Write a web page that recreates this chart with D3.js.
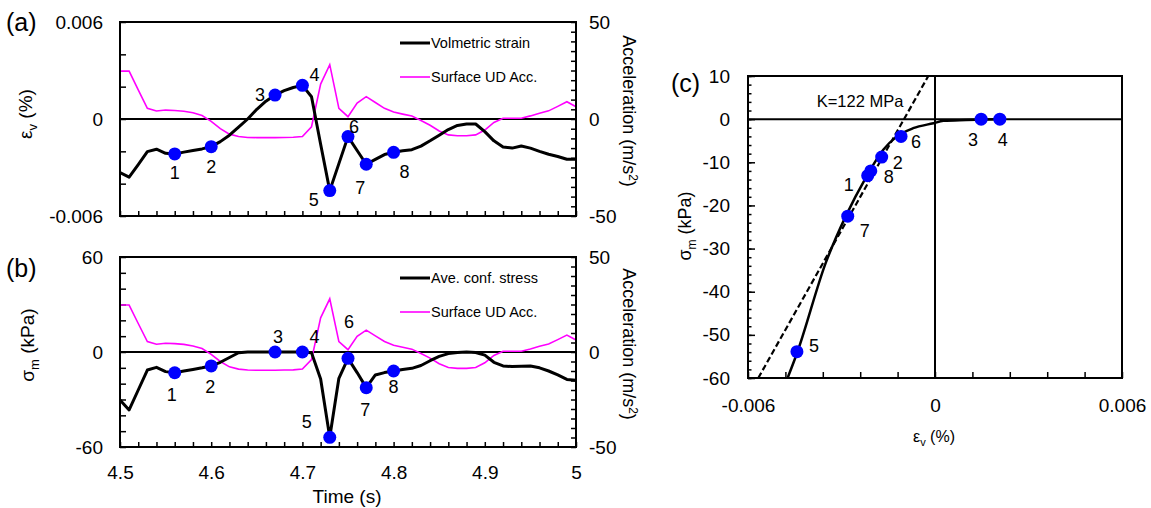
<!DOCTYPE html>
<html>
<head>
<meta charset="utf-8">
<script src="https://cdn.jsdelivr.net/npm/d3@7"></script>
<style>
  body { margin: 0; background: #fff; }
  svg { font-family: "Liberation Sans", Arial, sans-serif; }
</style>
</head>
<body>
<div id="chart"></div>
<script>
// time series (s)
var time = [4.50, 4.51, 4.52, 4.53, 4.54, 4.55, 4.56, 4.57, 4.58, 4.59,
            4.60, 4.61, 4.62, 4.63, 4.64, 4.65, 4.66, 4.67, 4.68, 4.69,
            4.70, 4.71, 4.72, 4.73, 4.74, 4.75, 4.76, 4.77, 4.78, 4.79,
            4.80, 4.81, 4.82, 4.83, 4.84, 4.85, 4.86, 4.87, 4.88, 4.89,
            4.90, 4.91, 4.92, 4.93, 4.94, 4.95, 4.96, 4.97, 4.98, 4.99, 5.00]

// volumetric strain (%)
var strain = [-0.00332, -0.0036, -0.00282, -0.00202, -0.00187, -0.00212, -0.00216, -0.00205, -0.00195, -0.00185,
              -0.00171, -0.0014, -0.001, -0.0005, 0.0, 0.0006, 0.0011, 0.00148, 0.00175, 0.00195,
              0.00208, 0.00138, -0.00156, -0.00443, -0.00276, -0.00109, -0.00195, -0.0028, -0.0025, -0.0022,
              -0.00206, -0.00197, -0.0019, -0.00168, -0.00135, -0.001, -0.00065, -0.0004, -0.00031, -0.00031,
              -0.00078, -0.00135, -0.00173, -0.0018, -0.00167, -0.0018, -0.002, -0.00218, -0.00232, -0.00249, -0.00249]

// average confining stress (kPa)
var stress = [-30.3, -36.6, -24, -11.4, -9.7, -12.4, -13.1, -12, -11, -10,
              -8.8, -6.5, -3.5, -0.5, 0, 0, 0, 0, 0, 0,
              0, -0.5, -17, -53.9, -16.6, -4, -13, -22.5, -14.5, -13,
              -12, -11, -10.3, -8.5, -5.5, -2.8, -1, -0.3, 0, -0.3,
              -2, -6.5, -8.8, -9.2, -9, -8.8, -10, -12, -14.5, -17.3, -17.9]

// surface UD acceleration (m/s2)
var accel = [24.7, 24.7, 15, 5.5, 4.1, 4.6, 4.4, 4.0, 3.2, 1.8,
             -1.2, -5, -7.8, -9.0, -9.5, -9.6, -9.6, -9.6, -9.5, -9.4,
             -9.0, -4, 18, 28, 5.5, 1.2, 8.2, 11.5, 8.5, 5.5,
             3.6, 2.5, 1.5, -0.8, -3.2, -6.2, -8.2, -8.6, -8.6, -8.2,
             -5.7, -1.8, 0.4, 0.4, 0.4, 1.6, 3.0, 4.2, 6.5, 8.9, 6.3]

// numbered states
var ptTime = [4.56, 4.60, 4.67, 4.70, 4.73, 4.75, 4.77, 4.80]
var ptName = ["1", "2", "3", "4", "5", "6", "7", "8"]

// fitted stress-strain curve in (c)
var fitStrain = [-0.00473, -0.00444, -0.0035, -0.00287, -0.0022, -0.00166, -0.00123, -0.0007, -0.00005, 0.00027, 0.001, 0.00203]
var fitStress = [-60, -54.5, -33.2, -22.6, -13.3, -7.1, -4.05, -2.1, -0.95, -0.4, -0.2, 0]

// K = 122 MPa line
var kStrain = [-0.00567, -0.000215]
var kStress = [-60, 10]

// label placement (pixel offsets from each point)
var offA = [[0, 19], [0, 20], [-15, 0], [12, -10], [-16, 9], [6, -10], [-6, 24], [11, 20]]
var offB = [[-3, 22], [-1, 21], [3, -15], [12, -15], [-23, -15], [1, -36], [-1, 22], [0, 16]]
var offC = [[-19, 9], [16, 6], [-8, 21], [3, 21], [17, -6], [15, 6], [17, 15], [18, 6]]

var svg = d3.select("#chart").append("svg")
    .attr("width", 1151)
    .attr("height", 508)

var ptIdx = ptTime.map(t => time.findIndex(v => Math.abs(v - t) < 1e-6))

function fmt(d) {
    if (Math.abs(d) < 1e-9) return "0"
    return String(+d.toPrecision(6))
}

function axisStyle(g) {
    g.select(".domain").remove()
    g.selectAll(".tick line").attr("stroke", "#000").attr("stroke-width", 1.5)
    g.selectAll(".tick text").attr("font-size", 19).attr("fill", "#000")
}

function labelFmt(shown) {
    return d => shown.some(s => Math.abs(s - d) < 1e-9) ? fmt(d) : ""
}

function timePanel(top, bottom, yDomain, yTicks, yShown, series, seriesName, offs, showX) {
    var x = d3.scaleLinear().domain([4.5, 5]).range([120, 576])
    var y = d3.scaleLinear().domain(yDomain).range([bottom, top])
    var ya = d3.scaleLinear().domain([-50, 50]).range([bottom, top])
    var g = svg.append("g")

    var xt = d3.range(0, 26).map(i => 4.5 + i * 0.02)
    g.append("g").attr("transform", "translate(0," + bottom + ")")
        .call(d3.axisBottom(x).tickValues(xt).tickSize(-5).tickPadding(19)
            .tickFormat(showX ? labelFmt([4.5, 4.6, 4.7, 4.8, 4.9, 5]) : () => ""))
        .call(axisStyle)
    g.append("g").attr("transform", "translate(120,0)")
        .call(d3.axisLeft(y).tickValues(yTicks).tickSize(-6).tickPadding(17).tickFormat(labelFmt(yShown)))
        .call(axisStyle)
    var at = d3.range(0, 21).map(i => -50 + i * 5)
    g.append("g").attr("transform", "translate(576,0)")
        .call(d3.axisRight(ya).tickValues(at).tickSize(-5).tickPadding(13).tickFormat(labelFmt([-50, 0, 50])))
        .call(axisStyle)

    var clipId = "clip" + top
    svg.append("clipPath").attr("id", clipId).append("rect")
        .attr("x", 120).attr("y", top).attr("width", 456).attr("height", bottom - top)

    var plot = g.append("g").attr("clip-path", "url(#" + clipId + ")")
    plot.append("line").attr("x1", 120).attr("x2", 576).attr("y1", y(0)).attr("y2", y(0))
        .attr("stroke", "#000").attr("stroke-width", 2)
    plot.append("path").datum(accel)
        .attr("fill", "none").attr("stroke", "#ff00ff").attr("stroke-width", 1.6)
        .attr("d", d3.line().x((d, i) => x(time[i])).y(d => ya(d)))
    plot.append("path").datum(series)
        .attr("fill", "none").attr("stroke", "#000").attr("stroke-width", 3).attr("stroke-linejoin", "round")
        .attr("d", d3.line().x((d, i) => x(time[i])).y(d => y(d)))

    g.append("rect").attr("x", 120).attr("y", top).attr("width", 456).attr("height", bottom - top)
        .attr("fill", "none").attr("stroke", "#000").attr("stroke-width", 2)

    g.selectAll(".pt").data(ptIdx).enter().append("circle")
        .attr("cx", i => x(time[i])).attr("cy", i => y(series[i])).attr("r", 6.5)
        .attr("fill", "#0000ff")
    g.selectAll(".lab").data(ptIdx).enter().append("text")
        .attr("x", (i, k) => x(time[i]) + offs[k][0])
        .attr("y", (i, k) => y(series[i]) + offs[k][1])
        .attr("text-anchor", "middle").attr("dominant-baseline", "central")
        .attr("font-size", 18).text((i, k) => ptName[k])

    // legend
    var lx = 400, ly = top + 21
    g.append("line").attr("x1", lx).attr("x2", lx + 30).attr("y1", ly).attr("y2", ly)
        .attr("stroke", "#000").attr("stroke-width", 3)
    g.append("text").attr("x", lx + 31).attr("y", ly + 5).attr("font-size", 14.5).text(seriesName)
    g.append("line").attr("x1", lx).attr("x2", lx + 30).attr("y1", ly + 34).attr("y2", ly + 34)
        .attr("stroke", "#ff00ff").attr("stroke-width", 1.6)
    g.append("text").attr("x", lx + 31).attr("y", ly + 39).attr("font-size", 14.5).text("Surface UD Acc.")

    // right axis title
    var mid = (top + bottom) / 2
    var rt = g.append("text").attr("transform", "translate(623," + (mid - 8) + ") rotate(90)")
        .attr("text-anchor", "middle").attr("font-size", 18)
    rt.append("tspan").text("Acceleration (m/s")
    rt.append("tspan").attr("dy", -6).attr("font-size", 12).text("2")
    rt.append("tspan").attr("dy", 6).text(")")
    return g
}

// (a)
var ga = timePanel(22, 216, [-0.006, 0.006],
    [-0.006, -0.004, -0.002, 0, 0.002, 0.004, 0.006], [-0.006, 0, 0.006],
    strain, "Volmetric strain", offA, false)
var ta = ga.append("text").attr("transform", "translate(32,114) rotate(-90)")
    .attr("text-anchor", "middle").attr("font-size", 19)
ta.append("tspan").text("ε")
ta.append("tspan").attr("dy", 5).attr("font-size", 13).text("v")
ta.append("tspan").attr("dy", -5).text(" (%)")
svg.append("text").attr("x", 6).attr("y", 31).attr("font-size", 25).text("(a)")

// (b)
var gb = timePanel(257, 447, [-60, 60],
    [-60, -50, -40, -30, -20, -10, 0, 10, 20, 30, 40, 50, 60], [-60, 0, 60],
    stress, "Ave. conf. stress", offB, true)
var tb = gb.append("text").attr("transform", "translate(34,345) rotate(-90)")
    .attr("text-anchor", "middle").attr("font-size", 19)
tb.append("tspan").text("σ")
tb.append("tspan").attr("dy", 5).attr("font-size", 13).text("m")
tb.append("tspan").attr("dy", -5).text(" (kPa)")
svg.append("text").attr("x", 6).attr("y", 277).attr("font-size", 25).text("(b)")
svg.append("text").attr("x", 347).attr("y", 503).attr("text-anchor", "middle")
    .attr("font-size", 19).text("Time (s)")

// (c)
var xc = d3.scaleLinear().domain([-0.006, 0.006]).range([748, 1122])
var yc = d3.scaleLinear().domain([-60, 10]).range([378, 76])
var gc = svg.append("g")

var xct = d3.range(0, 11).map(i => -0.006 + i * 0.0012)
gc.append("g").attr("transform", "translate(0,378)")
    .call(d3.axisBottom(xc).tickValues(xct).tickSize(-6).tickPadding(21).tickFormat(labelFmt([-0.006, 0, 0.006])))
    .call(axisStyle)
var ycMinor = d3.range(0, 36).map(i => -60 + i * 2)
gc.append("g").attr("transform", "translate(748,0)")
    .call(d3.axisLeft(yc).tickValues(ycMinor).tickSize(-3.5).tickFormat(() => ""))
    .call(axisStyle)
gc.append("g").attr("transform", "translate(748,0)")
    .call(d3.axisLeft(yc).tickValues([-60, -50, -40, -30, -20, -10, 0, 10]).tickSize(-7).tickPadding(18).tickFormat(fmt))
    .call(axisStyle)

svg.append("clipPath").attr("id", "clipc").append("rect")
    .attr("x", 748).attr("y", 76).attr("width", 374).attr("height", 302)
var pc = gc.append("g").attr("clip-path", "url(#clipc)")
pc.append("line").attr("x1", 748).attr("x2", 1122).attr("y1", yc(0)).attr("y2", yc(0))
    .attr("stroke", "#000").attr("stroke-width", 2)
pc.append("line").attr("x1", xc(0)).attr("x2", xc(0)).attr("y1", 76).attr("y2", 378)
    .attr("stroke", "#000").attr("stroke-width", 2)
pc.append("path").datum(kStrain)
    .attr("fill", "none").attr("stroke", "#000").attr("stroke-width", 2.2).attr("stroke-dasharray", "6,3")
    .attr("d", d3.line().x(d => xc(d)).y((d, i) => yc(kStress[i])))
pc.append("path").datum(fitStrain)
    .attr("fill", "none").attr("stroke", "#000").attr("stroke-width", 2.5)
    .attr("d", d3.line().curve(d3.curveMonotoneX).x(d => xc(d)).y((d, i) => yc(fitStress[i])))
gc.append("rect").attr("x", 748).attr("y", 76).attr("width", 374).attr("height", 302)
    .attr("fill", "none").attr("stroke", "#000").attr("stroke-width", 2)

gc.selectAll(".pt").data(ptIdx).enter().append("circle")
    .attr("cx", i => xc(strain[i])).attr("cy", i => yc(stress[i])).attr("r", 6.5)
    .attr("fill", "#0000ff")
gc.selectAll(".lab").data(ptIdx).enter().append("text")
    .attr("x", (i, k) => xc(strain[i]) + offC[k][0])
    .attr("y", (i, k) => yc(stress[i]) + offC[k][1])
    .attr("text-anchor", "middle").attr("dominant-baseline", "central")
    .attr("font-size", 18).text((i, k) => ptName[k])

gc.append("text").attr("x", 860).attr("y", 107).attr("text-anchor", "middle")
    .attr("font-size", 16.5).text("K=122 MPa")
svg.append("text").attr("x", 671).attr("y", 92).attr("font-size", 25).text("(c)")
var tcy = gc.append("text").attr("transform", "translate(691,226) rotate(-90)")
    .attr("text-anchor", "middle").attr("font-size", 18)
tcy.append("tspan").text("σ")
tcy.append("tspan").attr("dy", 5).attr("font-size", 12).text("m")
tcy.append("tspan").attr("dy", -5).text(" (kPa)")
var tcx = gc.append("text").attr("x", 934).attr("y", 442).attr("text-anchor", "middle").attr("font-size", 16)
tcx.append("tspan").text("ε")
tcx.append("tspan").attr("dy", 4).attr("font-size", 11).text("v")
tcx.append("tspan").attr("dy", -4).text(" (%)")
</script>
</body>
</html>
